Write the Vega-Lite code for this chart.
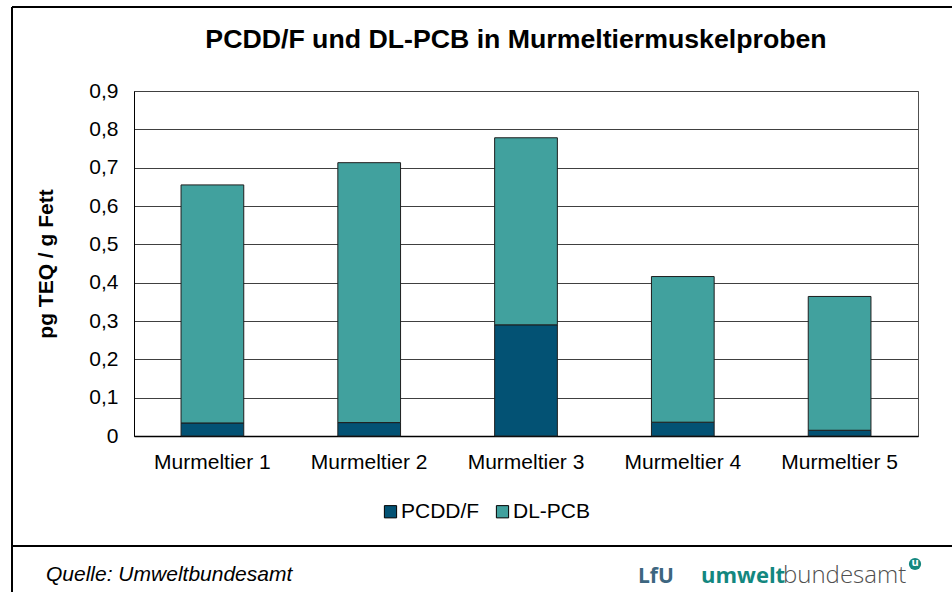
{
  "$schema": "https://vega.github.io/schema/vega-lite/v6.json",
  "width": 784,
  "height": 345,
  "autosize": {"type": "none"},
  "padding": {"left": 134, "top": 91, "right": 34, "bottom": 156},
  "background": "white",
  "data": {
    "values": [
      {"animal": "Murmeltier 1", "component": "PCDD/F", "value": 0.034},
      {"animal": "Murmeltier 1", "component": "DL-PCB", "value": 0.621},
      {"animal": "Murmeltier 2", "component": "PCDD/F", "value": 0.035},
      {"animal": "Murmeltier 2", "component": "DL-PCB", "value": 0.678},
      {"animal": "Murmeltier 3", "component": "PCDD/F", "value": 0.290},
      {"animal": "Murmeltier 3", "component": "DL-PCB", "value": 0.488},
      {"animal": "Murmeltier 4", "component": "PCDD/F", "value": 0.036},
      {"animal": "Murmeltier 4", "component": "DL-PCB", "value": 0.380},
      {"animal": "Murmeltier 5", "component": "PCDD/F", "value": 0.015},
      {"animal": "Murmeltier 5", "component": "DL-PCB", "value": 0.349}
    ]
  },
  "layer": [
    {
      "mark": {"type": "bar", "stroke": "#1e1e1e", "strokeWidth": 1},
      "encoding": {
        "x": {
          "field": "animal",
          "type": "nominal",
          "scale": {"paddingInner": 0.6, "paddingOuter": 0.3},
          "axis": {
            "title": null,
            "labelAngle": 0,
            "ticks": false,
            "domainColor": "black",
            "domainWidth": 1.5,
            "labelFont": "Liberation Sans",
            "labelFontSize": 21,
            "labelColor": "black",
            "labelPadding": 15
          }
        },
        "y": {
          "field": "value",
          "type": "quantitative",
          "stack": "zero",
          "scale": {"domain": [0, 0.9], "nice": false},
          "axis": {
            "values": [0, 0.1, 0.2, 0.3, 0.4, 0.5, 0.6, 0.7, 0.8, 0.9],
            "labelExpr": "replace(format(datum.value, '~g'), '.', ',')",
            "grid": true,
            "gridColor": "#404040",
            "gridWidth": 1,
            "ticks": false,
            "domainColor": "black",
            "domainWidth": 1,
            "labelFont": "Liberation Sans",
            "labelFontSize": 21,
            "labelColor": "black",
            "labelPadding": 16,
            "title": "pg TEQ / g Fett",
            "titleFont": "Liberation Sans",
            "titleFontSize": 21,
            "titleFontWeight": "bold",
            "titleColor": "black",
            "titleX": -88,
            "titleY": 172.5,
            "titleAngle": 270,
            "titleAlign": "center",
            "titleBaseline": "middle"
          }
        },
        "color": {
          "field": "component",
          "type": "nominal",
          "scale": {"domain": ["PCDD/F", "DL-PCB"], "range": ["#035274", "#41a19e"]},
          "legend": {
            "title": null,
            "orient": "none",
            "direction": "horizontal",
            "legendX": 246,
            "legendY": 410,
            "symbolType": "square",
            "symbolSize": 150,
            "symbolStrokeColor": "black",
            "symbolStrokeWidth": 1,
            "labelFont": "Liberation Sans",
            "labelFontSize": 21,
            "labelColor": "black",
            "labelOffset": 0,
            "columnPadding": 12
          }
        },
        "order": {"field": "component", "sort": "descending"}
      }
    },
    {
      "data": {"values": [{"t": "PCDD/F und DL-PCB in Murmeltiermuskelproben"}]},
      "mark": {"type": "text", "align": "center", "baseline": "alphabetic", "font": "Liberation Sans", "fontSize": 26.7, "fontWeight": "bold", "color": "black"},
      "encoding": {"text": {"field": "t"}, "x": {"value": 382}, "y": {"value": -43}}
    },
    {
      "data": {"values": [{}]},
      "mark": {"type": "rule", "color": "black", "strokeWidth": 2},
      "encoding": {"x": {"value": -122}, "y": {"value": -84}, "y2": {"value": 501}}
    },
    {
      "data": {"values": [{}]},
      "mark": {"type": "rule", "color": "black", "strokeWidth": 2},
      "encoding": {"x": {"value": -122}, "x2": {"value": 818}, "y": {"value": -84}}
    },
    {
      "data": {"values": [{}]},
      "mark": {"type": "rule", "color": "black", "strokeWidth": 2},
      "encoding": {"x": {"value": -122}, "x2": {"value": 818}, "y": {"value": 455}}
    },
    {
      "data": {"values": [{"t": "Quelle: Umweltbundesamt"}]},
      "mark": {"type": "text", "align": "left", "baseline": "alphabetic", "font": "Liberation Sans", "fontSize": 21, "fontStyle": "italic", "color": "black"},
      "encoding": {"text": {"field": "t"}, "x": {"value": -88}, "y": {"value": 490}}
    },
    {
      "data": {"values": [{"t": "LfU"}]},
      "mark": {"type": "text", "align": "left", "baseline": "alphabetic", "font": "Open Sans", "fontSize": 21, "fontWeight": "bold", "color": "#3d6680"},
      "encoding": {"text": {"field": "t"}, "x": {"value": 504}, "y": {"value": 492}}
    },
    {
      "data": {"values": [{"t": "umwelt"}]},
      "mark": {"type": "text", "align": "left", "baseline": "alphabetic", "font": "Open Sans", "fontSize": 22, "fontWeight": "bold", "color": "#13877f"},
      "encoding": {"text": {"field": "t"}, "x": {"value": 567}, "y": {"value": 492}}
    },
    {
      "data": {"values": [{"t": "bundesamt"}]},
      "mark": {"type": "text", "align": "left", "baseline": "alphabetic", "font": "Open Sans", "fontSize": 24, "fontWeight": 300, "color": "#505050"},
      "encoding": {"text": {"field": "t"}, "x": {"value": 649}, "y": {"value": 492}}
    },
    {
      "data": {"values": [{}]},
      "mark": {"type": "point", "shape": "circle", "filled": true, "color": "#13877f", "size": 150, "opacity": 1},
      "encoding": {"x": {"value": 781}, "y": {"value": 473}}
    },
    {
      "data": {"values": [{"t": "u"}]},
      "mark": {"type": "text", "align": "center", "baseline": "middle", "font": "Open Sans", "fontSize": 11, "fontWeight": "bold", "color": "white"},
      "encoding": {"text": {"field": "t"}, "x": {"value": 781}, "y": {"value": 472}}
    }
  ],
  "config": {
    "font": "Liberation Sans",
    "view": {"stroke": "#505050", "strokeWidth": 1}
  }
}
